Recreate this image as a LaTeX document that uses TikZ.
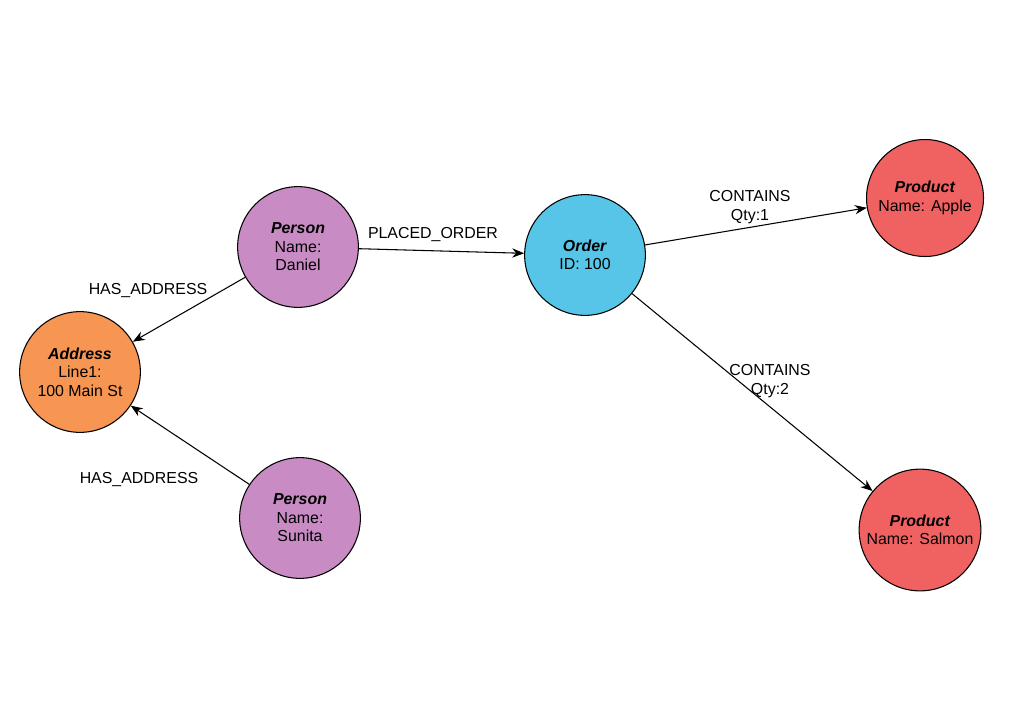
\documentclass[tikz,border=0pt]{standalone}
\usepackage{fontspec}
\setmainfont{Liberation Sans}
\usetikzlibrary{positioning}
\usetikzlibrary{arrows.meta}
\definecolor{personcol}{HTML}{C98BC4}
\definecolor{ordercol}{HTML}{56C5E8}
\definecolor{productcol}{HTML}{F06262}
\definecolor{addresscol}{HTML}{F79552}
\tikzset{>={Stealth[length=9pt,width=7pt]}}
\tikzstyle{entity}=[circle,draw=black,thick,minimum size=3.2cm,align=center,font=\large]
\tikzstyle{rel}=[->,thick]
\tikzstyle{lbl}=[align=center,font=\large]

\begin{document}
\begin{tikzpicture}[x=0.0265cm,y=-0.0265cm]
\useasboundingbox (0,0) rectangle (1024,712);

% Nodes
\node[entity,fill=personcol] (daniel) at (298,247) {\textbf{\textit{Person}}\\Name:\\Daniel};
\node[entity,fill=ordercol] (order) at (585,255) {\textbf{\textit{Order}}\\ID: 100};
\node[entity,fill=productcol,minimum size=3.1cm] (apple) at (925,198) {\textbf{\textit{Product}}\\Name: Apple};
\node[entity,fill=productcol,minimum size=3.1cm] (salmon) at (920,530) {\textbf{\textit{Product}}\\Name: Salmon};
\node[entity,fill=addresscol] (address) at (80,372) {\textbf{\textit{Address}}\\Line1:\\100 Main St};
\node[entity,fill=personcol] (sunita) at (300,518) {\textbf{\textit{Person}}\\Name:\\Sunita};

% Relationships
\draw[rel] (daniel) -- (order);
\node[lbl] at (433,235) {PLACED\_ORDER};
\draw[rel] (daniel) -- (address);
\node[lbl] at (148,291) {HAS\_ADDRESS};
\draw[rel] (sunita) -- (address);
\node[lbl] at (139,480) {HAS\_ADDRESS};
\draw[rel] (order) -- (apple);
\node[lbl] at (750,207) {CONTAINS\\Qty:1};
\draw[rel] (order) -- (salmon);
\node[lbl] at (770,381) {CONTAINS\\Qty:2};

\end{tikzpicture}
\end{document}
